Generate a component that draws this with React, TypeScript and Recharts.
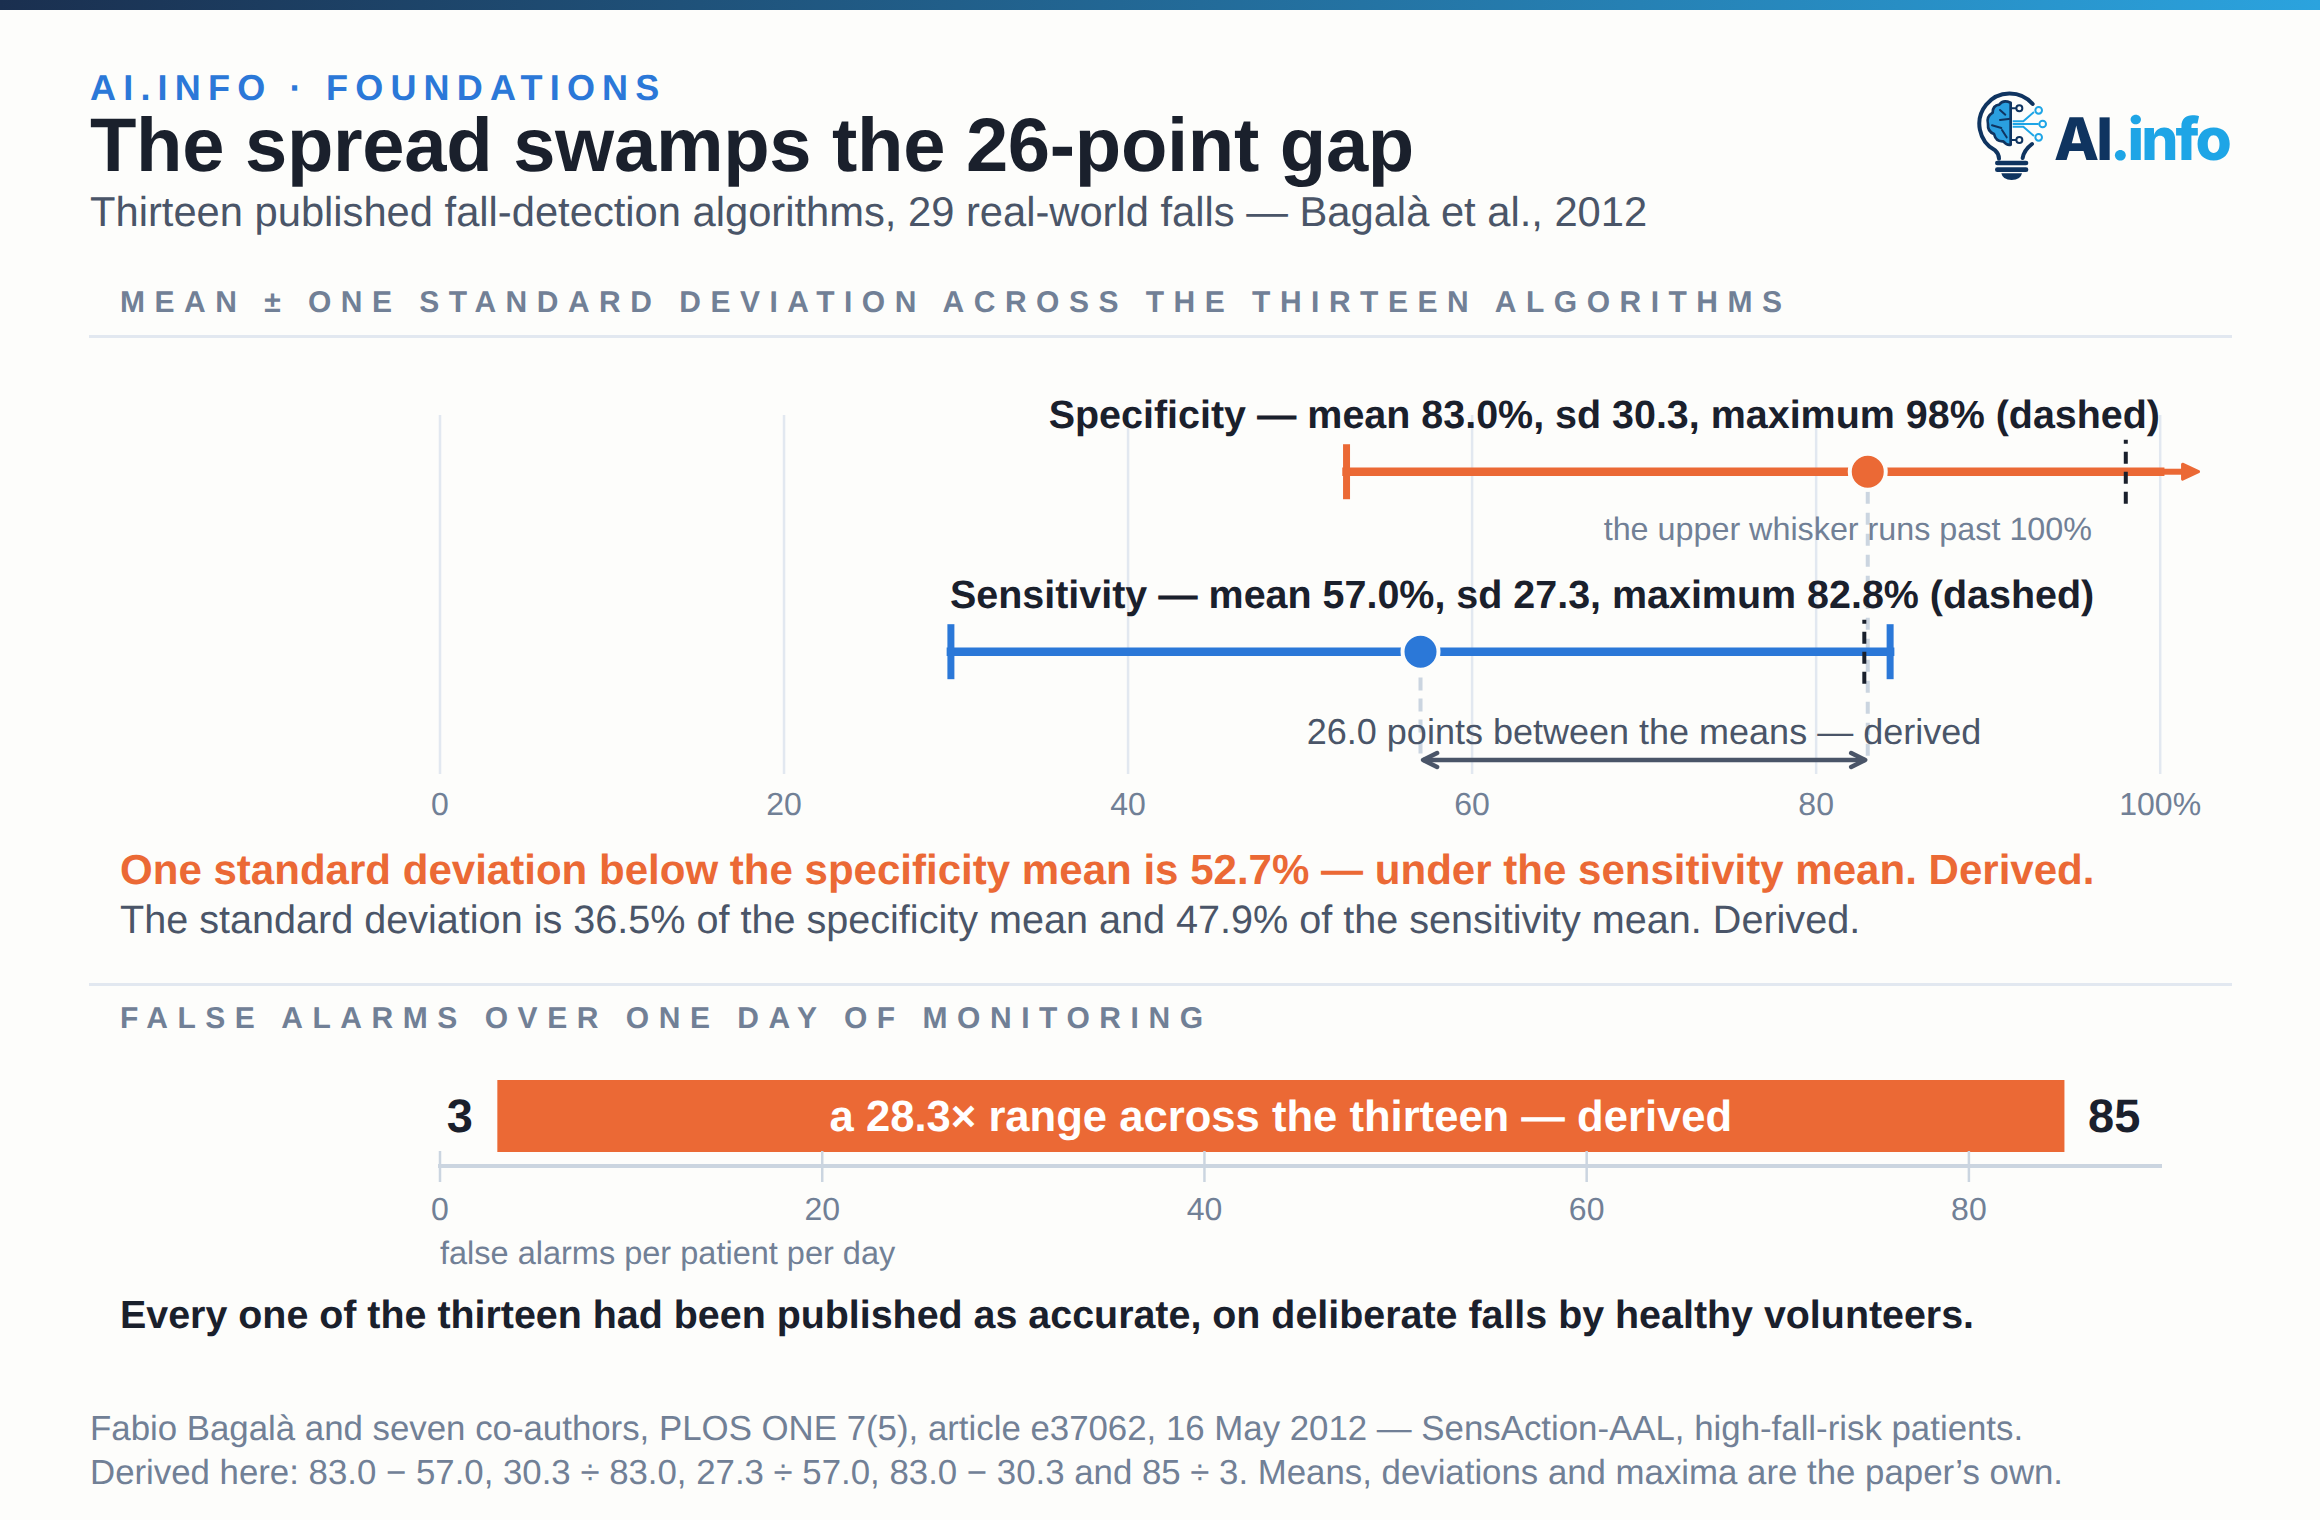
import { BarChart, Bar, Cell, LabelList, ScatterChart, Scatter, XAxis, YAxis, CartesianGrid } from "recharts";

// ── Data ──────────────────────────────────────────────────────────────────────

const accuracyTicks = [0, 20, 40, 60, 80, 100];
const specificity = { mean: 83.0, low: 52.7, clippedHigh: 100, arrowBase: 101.3, max: 98 };
const sensitivity = { mean: 57.0, low: 29.7, high: 84.3, max: 82.8 };
const gapArrow = [57.15, 82.85];

const alarmTicks = [0, 20, 40, 60, 80];
const alarmRange = [3, 85];
const alarmRows = [{ name: "false alarms", range: alarmRange, label: "a 28.3× range across the thirteen — derived" }];

// ── Colours and layout ────────────────────────────────────────────────────────

const FONT = '"Liberation Sans", Arial, sans-serif';
const INK = "#1a202c";
const SLATE = "#4a5568";
const MUTED = "#718096";
const RULE = "#e2e8f0";
const AXIS = "#cbd5e0";
const ORANGE = "#eb6935";
const BLUE = "#2b78d8";
const PAPER = "#fdfdfb";

// vertical rows of the range chart, on a hidden 0-100 axis
const SPEC_ROW = 84.2;
const SENS_ROW = 34.07;
const GAP_ROW = 3.9;
const SPEC_DROP_TOP = 78.6;
const SENS_DROP_TOP = 26.9;

// ── Shapes ────────────────────────────────────────────────────────────────────

const noMark = () => null;

function axisTick(formatter: (v: number) => string, dy: number, mark: boolean) {
  return ({ x, y, payload }: any) => (
    <g>
      {mark && <line x1={x} x2={x} y1={y - 15} y2={y + 16} stroke={AXIS} strokeWidth={2.5} />}
      <text x={x} y={y + dy} textAnchor="middle" fontSize={32} fontFamily={FONT} fill={MUTED}>
        {formatter(payload.value)}
      </text>
    </g>
  );
}

function meanDot(color: string) {
  return ({ cx, cy }: any) => <circle cx={cx} cy={cy} r={18} fill={color} stroke={PAPER} strokeWidth={4} />;
}

function whiskerCap(color: string) {
  return ({ cx, cy }: any) => <line x1={cx} x2={cx} y1={cy - 27.5} y2={cy + 27.5} stroke={color} strokeWidth={7} />;
}

function maxMark({ cx, cy }: any) {
  return <line x1={cx} x2={cx} y1={cy + 32} y2={cy - 32} stroke={INK} strokeWidth={4} strokeDasharray="12 8" />;
}

function arrowHead({ cx, cy }: any) {
  return <path d={`M${cx},${cy - 7.5} L${cx + 16},${cy} L${cx},${cy + 7.5} Z`} fill={ORANGE} stroke={ORANGE} strokeWidth={3} strokeLinejoin="round" />;
}

function chevron(dir: number) {
  return ({ cx, cy }: any) => (
    <path
      d={`M${cx + dir * 14},${cy - 7} L${cx},${cy} L${cx + dir * 14},${cy + 7}`}
      fill="none"
      stroke={SLATE}
      strokeWidth={4.5}
      strokeLinecap="round"
      strokeLinejoin="round"
    />
  );
}

// ── Charts ────────────────────────────────────────────────────────────────────

function RangeChart() {
  return (
    <ScatterChart width={2320} height={440} margin={{ top: 15, right: 91, bottom: 16, left: 440 }}>
      <CartesianGrid horizontal={false} verticalValues={accuracyTicks} stroke={RULE} strokeWidth={2.5} />
      <XAxis
        type="number"
        dataKey="x"
        domain={[0, 104]}
        ticks={accuracyTicks}
        interval={0}
        height={50}
        axisLine={false}
        tickLine={false}
        tickSize={0}
        tickMargin={0}
        tick={axisTick((v) => (v === 100 ? "100%" : String(v)), 41, false)}
      />
      <YAxis type="number" dataKey="y" domain={[0, 100]} hide />

      {/* connectors from the means down to the gap arrow */}
      <Scatter
        isAnimationActive={false}
        data={[{ x: specificity.mean, y: SPEC_DROP_TOP }, { x: specificity.mean, y: GAP_ROW }]}
        shape={noMark}
        line={{ stroke: AXIS, strokeWidth: 4, strokeDasharray: "12 9" }}
      />
      <Scatter
        isAnimationActive={false}
        data={[{ x: sensitivity.mean, y: SENS_DROP_TOP }, { x: sensitivity.mean, y: GAP_ROW }]}
        shape={noMark}
        line={{ stroke: AXIS, strokeWidth: 4, strokeDasharray: "13 8" }}
      />

      {/* gap arrow */}
      <Scatter
        isAnimationActive={false}
        data={[{ x: gapArrow[0], y: GAP_ROW }, { x: gapArrow[1], y: GAP_ROW }]}
        shape={noMark}
        line={{ stroke: SLATE, strokeWidth: 4.5 }}
      />
      <Scatter isAnimationActive={false} data={[{ x: gapArrow[0], y: GAP_ROW }]} shape={chevron(1)} />
      <Scatter isAnimationActive={false} data={[{ x: gapArrow[1], y: GAP_ROW }]} shape={chevron(-1)} />

      {/* specificity whisker, running off the 100% edge */}
      <Scatter
        isAnimationActive={false}
        data={[{ x: specificity.clippedHigh, y: SPEC_ROW }, { x: specificity.arrowBase, y: SPEC_ROW }]}
        shape={noMark}
        line={{ stroke: ORANGE, strokeWidth: 6 }}
      />
      <Scatter isAnimationActive={false} data={[{ x: specificity.arrowBase, y: SPEC_ROW }]} shape={arrowHead} />
      <Scatter
        isAnimationActive={false}
        data={[{ x: specificity.low, y: SPEC_ROW }, { x: specificity.clippedHigh, y: SPEC_ROW }]}
        shape={noMark}
        line={{ stroke: ORANGE, strokeWidth: 8.5, strokeLinecap: "square" }}
      />
      <Scatter isAnimationActive={false} data={[{ x: specificity.low, y: SPEC_ROW }]} shape={whiskerCap(ORANGE)} />
      <Scatter isAnimationActive={false} data={[{ x: specificity.max, y: SPEC_ROW }]} shape={maxMark} />
      <Scatter isAnimationActive={false} data={[{ x: specificity.mean, y: SPEC_ROW }]} shape={meanDot(ORANGE)} />

      {/* sensitivity whisker */}
      <Scatter
        isAnimationActive={false}
        data={[{ x: sensitivity.low, y: SENS_ROW }, { x: sensitivity.high, y: SENS_ROW }]}
        shape={whiskerCap(BLUE)}
        line={{ stroke: BLUE, strokeWidth: 8.5, strokeLinecap: "square" }}
      />
      <Scatter isAnimationActive={false} data={[{ x: sensitivity.max, y: SENS_ROW }]} shape={maxMark} />
      <Scatter isAnimationActive={false} data={[{ x: sensitivity.mean, y: SENS_ROW }]} shape={meanDot(BLUE)} />
    </ScatterChart>
  );
}

function AlarmChart() {
  return (
    <BarChart
      width={2320}
      height={240}
      layout="vertical"
      data={alarmRows}
      margin={{ top: 26, right: 160, bottom: 64, left: 440 }}
    >
      <XAxis
        type="number"
        domain={[0, 90]}
        ticks={alarmTicks}
        interval={0}
        height={50}
        axisLine={{ stroke: AXIS, strokeWidth: 4, strokeLinecap: "square" }}
        tickLine={false}
        tickSize={0}
        tickMargin={0}
        tick={axisTick(String, 54, true)}
      />
      <YAxis type="category" dataKey="name" hide />
      <Bar dataKey="range" barSize={72} isAnimationActive={false}>
        {alarmRows.map((r) => (
          <Cell key={r.name} fill={ORANGE} />
        ))}
        <LabelList
          dataKey="label"
          position="center"
          fill="#ffffff"
          fontSize={43.6}
          fontWeight={700}
          fontFamily={FONT}
        />
      </Bar>
    </BarChart>
  );
}

// ── Logo ──────────────────────────────────────────────────────────────────────

function Logo() {
  const navy = "#0f3460";
  const sky = "#1ea5e6";
  return (
    <svg width={400} height={140} viewBox="0 0 1200 420" style={{ position: "absolute", left: 1900, top: 60 }}>
      <path d="M398 132 A91 91 0 1 0 285 271 Q297 282 297 296" fill="none" stroke={navy} strokeWidth={12} strokeLinecap="round" />
      <path d="M396 252 Q372 270 368 294" fill="none" stroke={navy} strokeWidth={12} strokeLinecap="round" />
      <rect x={285} y={302} width={100} height={14} rx={7} fill={navy} />
      <rect x={285} y={322} width={100} height={14} rx={7} fill={navy} />
      <path d="M304 340 H366 Q362 360 335 360 Q308 360 304 340 Z" fill={navy} />
      <path
        d="M332 128 Q308 118 298 134 Q278 136 278 158 Q258 170 264 192 Q262 214 282 222 Q288 246 310 244 Q322 258 332 254 Z"
        fill="#2a9fe0"
        stroke={navy}
        strokeWidth={8}
        strokeLinejoin="round"
      />
      <path d="M332 176 L300 180 M300 150 L316 164 M276 196 L304 204 M306 210 L320 232" fill="none" stroke={navy} strokeWidth={6} strokeLinecap="round" />
      <path d="M338 184 H370 L402 156 M338 192 H416 M338 200 H370 L402 228" fill="none" stroke={sky} strokeWidth={6} />
      <path d="M336 145 H348 M336 240 H348" stroke={navy} strokeWidth={6} />
      <circle cx={358} cy={145} r={9} fill="none" stroke={navy} strokeWidth={6} />
      <circle cx={358} cy={240} r={9} fill="none" stroke={navy} strokeWidth={6} />
      <circle cx={416} cy={151} r={10} fill="none" stroke={sky} strokeWidth={6} />
      <circle cx={428} cy={192} r={10} fill="none" stroke={sky} strokeWidth={6} />
      <circle cx={416} cy={232} r={10} fill="none" stroke={sky} strokeWidth={6} />
      <text x={462} y={300} fontFamily="Inter" fontWeight={800} fontSize={176} letterSpacing={-9}>
        <tspan fill={navy}>AI</tspan>
        <tspan fill={sky}>.info</tspan>
      </text>
    </svg>
  );
}

// ── Page ──────────────────────────────────────────────────────────────────────

function Rule({ y }: { y: number }) {
  return <div style={{ position: "absolute", left: 89, width: 2143, top: y - 1.5, height: 3, background: RULE }} />;
}

export default function App() {
  const layer = { position: "absolute", left: 0 } as const;
  return (
    <div
      style={{
        position: "absolute",
        left: 0,
        top: 0,
        width: 2320,
        height: 1520,
        background: PAPER,
        overflow: "hidden",
        textRendering: "geometricPrecision",
      }}
    >
      <div style={{ ...layer, top: 0, width: 2320, height: 10, background: "linear-gradient(90deg, #1a2f4f, #2ba3de)" }} />
      <Logo />
      <Rule y={336.5} />
      <Rule y={984} />
      <div style={{ ...layer, top: 400 }}>
        <RangeChart />
      </div>
      <div style={{ ...layer, top: 1040 }}>
        <AlarmChart />
      </div>
      <svg width={2320} height={1520} style={{ ...layer, top: 0, pointerEvents: "none" }} fontFamily={FONT}>
        <text x={90} y={100} fontSize={36} fontWeight={700} fill={BLUE} letterSpacing={7.2}>AI.INFO · FOUNDATIONS</text>
        <text x={90} y={171} fontSize={76} fontWeight={700} fill={INK} letterSpacing={-0.31}>The spread swamps the 26-point gap</text>
        <text x={90} y={226} fontSize={41.7} fill={SLATE}>Thirteen published fall-detection algorithms, 29 real-world falls — Bagalà et al., 2012</text>

        <text x={120} y={312} fontSize={30} fontWeight={700} fill={MUTED} letterSpacing={9.5}>MEAN ± ONE STANDARD DEVIATION ACROSS THE THIRTEEN ALGORITHMS</text>
        <text x={2160} y={428} fontSize={39.45} fontWeight={700} fill={INK} textAnchor="end">Specificity — mean 83.0%, sd 30.3, maximum 98% (dashed)</text>
        <text x={2092} y={540} fontSize={32.3} fill={MUTED} textAnchor="end">the upper whisker runs past 100%</text>
        <text x={950} y={608} fontSize={39.45} fontWeight={700} fill={INK}>Sensitivity — mean 57.0%, sd 27.3, maximum 82.8% (dashed)</text>
        <text x={1644} y={744} fontSize={36} fill={SLATE} textAnchor="middle">26.0 points between the means — derived</text>

        <text x={120} y={884} fontSize={42.06} fontWeight={700} fill={ORANGE}>One standard deviation below the specificity mean is 52.7% — under the sensitivity mean. Derived.</text>
        <text x={120} y={933} fontSize={39.6} fill={SLATE}>The standard deviation is 36.5% of the specificity mean and 47.9% of the sensitivity mean. Derived.</text>

        <text x={120} y={1028} fontSize={30} fontWeight={700} fill={MUTED} letterSpacing={9.55}>FALSE ALARMS OVER ONE DAY OF MONITORING</text>
        <text x={473} y={1132} fontSize={47} fontWeight={700} fill={INK} textAnchor="end">{alarmRange[0]}</text>
        <text x={2088} y={1132} fontSize={47} fontWeight={700} fill={INK}>{alarmRange[1]}</text>
        <text x={440} y={1264} fontSize={32.5} fill={MUTED}>false alarms per patient per day</text>
        <text x={120} y={1328} fontSize={39.4} fontWeight={700} fill={INK}>Every one of the thirteen had been published as accurate, on deliberate falls by healthy volunteers.</text>

        <text x={90} y={1439.5} fontSize={34.82} fill={MUTED}>Fabio Bagalà and seven co-authors, PLOS ONE 7(5), article e37062, 16 May 2012 — SensAction-AAL, high-fall-risk patients.</text>
        <text x={90} y={1483.5} fontSize={34.8} fill={MUTED}>Derived here: 83.0 − 57.0, 30.3 ÷ 83.0, 27.3 ÷ 57.0, 83.0 − 30.3 and 85 ÷ 3. Means, deviations and maxima are the paper’s own.</text>
      </svg>
    </div>
  );
}
